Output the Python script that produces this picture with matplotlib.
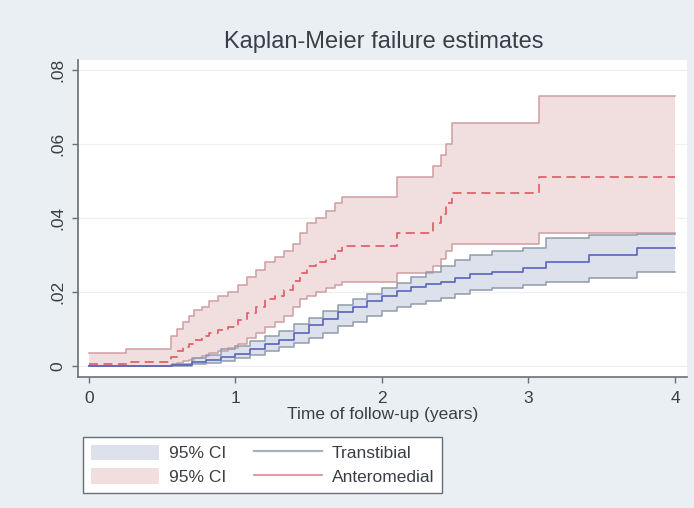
import matplotlib
matplotlib.use("Agg")
import matplotlib.pyplot as plt
from matplotlib.patches import Patch
from matplotlib.lines import Line2D
from matplotlib.ticker import FuncFormatter

plt.rcParams['font.family'] = ['Liberation Sans', 'DejaVu Sans']

# Anteromedial group: event times, KM failure estimate and 95% CI bounds
am_time = [0, 0.25, 0.56, 0.60, 0.64, 0.68, 0.72, 0.77, 0.82, 0.88, 0.95, 1.02,
           1.08, 1.14, 1.20, 1.27, 1.33, 1.39, 1.44, 1.49, 1.55, 1.62, 1.68, 1.73,
           2.10, 2.35, 2.40, 2.44, 2.48, 3.07, 4.0]
am_est = [0.0005, 0.001, 0.0025, 0.004, 0.005, 0.006, 0.007, 0.008, 0.009, 0.0098,
          0.0105, 0.0125, 0.0143, 0.016, 0.018, 0.019, 0.0205, 0.023, 0.025, 0.027,
          0.028, 0.029, 0.031, 0.0324, 0.036, 0.0386, 0.041, 0.044, 0.0467, 0.051, 0.051]
am_lo = [0, 0, 0.0003, 0.0008, 0.0012, 0.0017, 0.0022, 0.0028, 0.0034, 0.004,
         0.0048, 0.006, 0.0075, 0.009, 0.0105, 0.012, 0.0135, 0.016, 0.018, 0.019,
         0.020, 0.021, 0.022, 0.0227, 0.025, 0.027, 0.029, 0.031, 0.033, 0.036, 0.036]
am_hi = [0.0035, 0.0046, 0.008, 0.010, 0.012, 0.0135, 0.015, 0.016, 0.0175, 0.019,
         0.020, 0.022, 0.024, 0.026, 0.028, 0.0295, 0.031, 0.033, 0.036, 0.0386,
         0.040, 0.042, 0.044, 0.0457, 0.051, 0.054, 0.057, 0.060, 0.0657, 0.073, 0.073]

# Transtibial group
tt_time = [0, 0.57, 0.7, 0.8, 0.9, 1.0, 1.1, 1.2, 1.3, 1.4, 1.5, 1.6, 1.7, 1.8,
           1.9, 2.0, 2.1, 2.2, 2.3, 2.4, 2.5, 2.6, 2.75, 2.96, 3.12, 3.41, 3.74, 4.0]
tt_est = [0, 0.0002, 0.001, 0.0017, 0.0025, 0.0033, 0.0045, 0.0058, 0.007, 0.009,
          0.011, 0.0128, 0.0145, 0.016, 0.0175, 0.019, 0.0203, 0.0213, 0.0222, 0.0228,
          0.0238, 0.0248, 0.0254, 0.0265, 0.028, 0.030, 0.032, 0.032]
tt_lo = [0, 0, 0.0004, 0.0008, 0.0013, 0.002, 0.003, 0.004, 0.005, 0.0062,
         0.0075, 0.009, 0.0108, 0.012, 0.0135, 0.0148, 0.016, 0.0168, 0.0176, 0.0184,
         0.0195, 0.0205, 0.021, 0.022, 0.0227, 0.0238, 0.0254, 0.0254]
tt_hi = [0, 0.0005, 0.002, 0.003, 0.0045, 0.0055, 0.0068, 0.008, 0.0095, 0.0112,
         0.013, 0.0148, 0.0165, 0.018, 0.0195, 0.021, 0.0225, 0.024, 0.0255, 0.027,
         0.0285, 0.030, 0.031, 0.032, 0.0346, 0.0354, 0.0356, 0.0356]

x_ticks = [0, 1, 2, 3, 4]
y_ticks = [0, 0.02, 0.04, 0.06, 0.08]

bg = '#e9eff2'
red_fill, red_edge, red_line = '#f1dede', '#cf9ea2', '#e0646e'
blue_fill, blue_edge, blue_line = '#dce1eb', '#8e9cac', '#5a64be'
txt = '#3a3f47'

fig = plt.figure(figsize=(6.94, 5.08), dpi=100, facecolor=bg)
ax = fig.add_axes([0.1124, 0.2579, 0.8775, 0.624])
ax.set_facecolor('white')

# confidence bands
ax.fill_between(am_time, am_lo, am_hi, step='post', color=red_fill, lw=0, zorder=1)
ax.fill_between(tt_time, tt_lo, tt_hi, step='post', color=blue_fill, lw=0, zorder=2)
ax.step(am_time, am_lo, where='post', color=red_edge, lw=1.1, zorder=3)
ax.step(am_time, am_hi, where='post', color=red_edge, lw=1.1, zorder=3)
ax.step(tt_time, tt_lo, where='post', color=blue_edge, lw=1.1, zorder=4)
ax.step(tt_time, tt_hi, where='post', color=blue_edge, lw=1.1, zorder=4)

# estimates
ax.step(tt_time, tt_est, where='post', color=blue_line, lw=1.2, zorder=5)
ax.step(am_time, am_est, where='post', color=red_line, lw=1.3,
        linestyle=(0, (5, 3)), zorder=6)

ax.set_xlim(-0.075, 4.082)
ax.set_ylim(-0.003, 0.0827)
ax.set_xticks(x_ticks)
ax.set_yticks(y_ticks)
ax.yaxis.set_major_formatter(FuncFormatter(lambda v, p: '0' if v == 0 else ('%.2f' % v).lstrip('0')))
ax.grid(axis='y', color='#eef0f2', lw=0.9, zorder=0)
ax.set_axisbelow(True)
for s in ['top', 'right']:
    ax.spines[s].set_visible(False)
for s in ['left', 'bottom']:
    ax.spines[s].set_color('#6a6f75')
    ax.spines[s].set_linewidth(1.2)
ax.tick_params(colors='#6a6f75', length=4, width=1, labelcolor=txt, labelsize=12.5)
for lab in ax.get_yticklabels():
    lab.set_rotation(90)
    lab.set_va('center')
ax.tick_params(axis='y', pad=5)
ax.tick_params(axis='x', pad=6)

ax.set_xlabel('Time of follow-up (years)', fontsize=12.5, color=txt, labelpad=1)
fig.text(0.553, 0.917, 'Kaplan-Meier failure estimates', fontsize=17,
         color=txt, ha='center', va='center')

handles = [Patch(facecolor=blue_fill, edgecolor='none'),
           Patch(facecolor=red_fill, edgecolor='none'),
           Line2D([], [], color='#9fb4bc', lw=1.6),
           Line2D([], [], color='#d58a92', lw=1.2)]
labels = ['95% CI', '95% CI', 'Transtibial', 'Anteromedial']
leg = fig.legend(handles, labels, ncol=2, loc='lower left',
                 bbox_to_anchor=(0.1196, 0.03), borderaxespad=0, fontsize=12.5,
                 handlelength=3.9, handleheight=1.0, handletextpad=0.6,
                 columnspacing=1.6, labelspacing=0.4, borderpad=0.45,
                 fancybox=False, framealpha=1, edgecolor='#6a6f75')
leg.get_frame().set_linewidth(1.0)
for t in leg.get_texts():
    t.set_color(txt)

fig.savefig('out.png', dpi=100, facecolor=bg)
